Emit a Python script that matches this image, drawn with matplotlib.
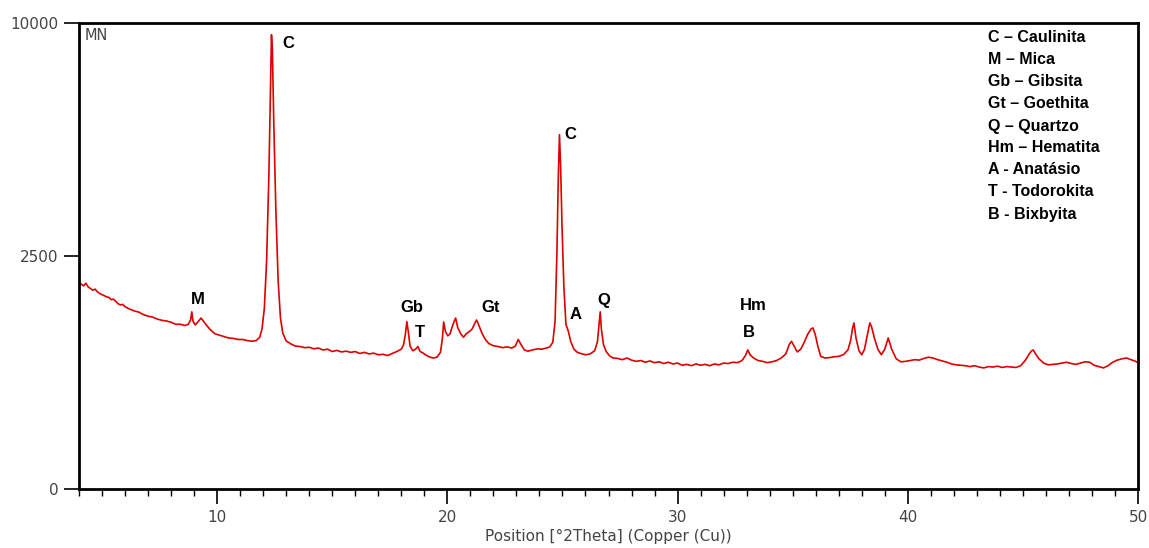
"""
XRD pattern (sample MN) with mineral phase labels.
"""
import numpy as np
import matplotlib.pyplot as plt
from matplotlib.ticker import MultipleLocator

plt.rcParams['font.family'] = ['Liberation Sans', 'DejaVu Sans']

# diffractogram: 2theta (deg) and counts, row for row
two_theta = [
    4.0, 4.1, 4.2, 4.3, 4.4, 4.5, 4.6, 4.7, 4.8, 4.9,
    5.0, 5.1, 5.2, 5.3, 5.4, 5.5, 5.6, 5.7, 5.8, 5.9,
    6.0, 6.2, 6.4, 6.6, 6.8, 7.0, 7.2, 7.4, 7.6, 7.8,
    8.0, 8.2, 8.4, 8.6, 8.75, 8.85, 8.9, 8.95, 9.05, 9.15,
    9.3, 9.4, 9.55, 9.7, 9.9, 10.1, 10.3, 10.5, 10.7, 10.9,
    11.1, 11.3, 11.5, 11.7, 11.85, 11.95, 12.05, 12.15, 12.25, 12.32,
    12.36, 12.4, 12.46, 12.55, 12.65, 12.75, 12.85, 13.0, 13.2, 13.4,
    13.6, 13.8, 14.0, 14.2, 14.4, 14.6, 14.8, 15.0, 15.2, 15.4,
    15.6, 15.8, 16.0, 16.2, 16.4, 16.6, 16.8, 17.0, 17.2, 17.4,
    17.6, 17.8, 18.0, 18.1, 18.18, 18.24, 18.3, 18.38, 18.5, 18.62,
    18.72, 18.82, 18.95, 19.1, 19.25, 19.4, 19.55, 19.7, 19.78, 19.84,
    19.92, 20.02, 20.12, 20.22, 20.3, 20.36, 20.45, 20.58, 20.7, 20.82,
    20.95, 21.08, 21.2, 21.27, 21.35, 21.5, 21.65, 21.8, 22.0, 22.2,
    22.4, 22.6, 22.8, 22.95, 23.08, 23.2, 23.35, 23.5, 23.7, 23.9,
    24.1, 24.3, 24.45, 24.58, 24.68, 24.76, 24.82, 24.87, 24.92, 24.98,
    25.06, 25.15, 25.26, 25.36, 25.5, 25.65, 25.8, 26.0, 26.2, 26.4,
    26.52, 26.6, 26.64, 26.69, 26.78, 26.9, 27.05, 27.2, 27.4, 27.6,
    27.8, 28.0, 28.2, 28.4, 28.6, 28.8, 29.0, 29.2, 29.4, 29.6,
    29.8, 30.0, 30.2, 30.4, 30.6, 30.8, 31.0, 31.2, 31.4, 31.6,
    31.8, 32.0, 32.2, 32.4, 32.6, 32.8, 32.95, 33.05, 33.15, 33.3,
    33.5, 33.7, 33.9, 34.1, 34.3, 34.5, 34.7, 34.85, 34.95, 35.08,
    35.2, 35.35, 35.5, 35.65, 35.8, 35.88, 35.98, 36.1, 36.22, 36.4,
    36.6, 36.8, 37.0, 37.2, 37.4, 37.52, 37.6, 37.66, 37.75, 37.88,
    38.0, 38.12, 38.25, 38.35, 38.42, 38.55, 38.7, 38.85, 39.0, 39.15,
    39.3, 39.5, 39.7, 39.9, 40.1, 40.3, 40.5, 40.7, 40.9, 41.1,
    41.3, 41.5, 41.7, 41.9, 42.1, 42.3, 42.5, 42.7, 42.9, 43.1,
    43.3, 43.5, 43.7, 43.9, 44.1, 44.3, 44.5, 44.7, 44.9, 45.1,
    45.25, 45.38, 45.45, 45.55, 45.7, 45.9, 46.1, 46.3, 46.5, 46.7,
    46.9, 47.1, 47.3, 47.5, 47.7, 47.9, 48.1, 48.3, 48.5, 48.7,
    48.9, 49.1, 49.3, 49.5, 49.7, 49.9, 50.0,
]
counts = [
    1970, 1930, 1900, 1950, 1880, 1850, 1820, 1840, 1790, 1760,
    1740, 1720, 1700, 1690, 1650, 1660, 1620, 1580, 1560, 1570,
    1530, 1490, 1460, 1440, 1400, 1375, 1360, 1330, 1310, 1300,
    1280, 1250, 1250, 1230, 1250, 1320, 1445, 1300, 1240, 1280,
    1345, 1300, 1230, 1170, 1110, 1090, 1070, 1050, 1045, 1030,
    1030, 1015, 1005, 1015, 1060, 1180, 1500, 2400, 4600, 7600,
    9500, 8900, 6200, 3600, 2000, 1350, 1120, 1010, 970, 940,
    935, 920, 925, 905, 915, 890, 900, 870, 885, 865,
    875, 860, 870, 845, 860, 840, 850, 830, 835, 820,
    845, 870, 900, 960, 1110, 1290, 1150, 940, 880, 900,
    935, 870, 850, 820, 800, 790, 800, 860, 1030, 1285,
    1140, 1080, 1110, 1220, 1300, 1345, 1200, 1110, 1060, 1110,
    1140, 1180, 1270, 1315, 1250, 1120, 1030, 975, 945, 935,
    920, 930, 915, 940, 1030, 960, 890, 875, 890, 905,
    900, 915, 930, 990, 1300, 2600, 4500, 5780, 4800, 3200,
    1900, 1250, 1140, 1000, 900, 860, 845, 830, 840, 880,
    1000, 1300, 1445, 1180, 960, 870, 815, 790, 785, 770,
    790, 765, 750, 760, 740, 755, 735, 745, 725, 740,
    720, 730, 705, 715, 700, 720, 705, 715, 700, 720,
    710, 730, 725, 740, 735, 760, 820, 890, 830, 790,
    760, 750, 735, 745, 760, 790, 840, 960, 1005, 930,
    865, 900, 990, 1100, 1180, 1195, 1100, 930, 810, 790,
    795, 805, 810, 830, 890, 1020, 1190, 1270, 1050, 880,
    830, 900, 1100, 1270, 1220, 1050, 900, 830, 900, 1050,
    900, 780, 745, 750, 760, 770, 765, 785, 800, 790,
    770, 755, 740, 720, 710, 705, 700, 690, 700, 685,
    675, 690, 685, 695, 680, 690, 685, 680, 700, 760,
    830, 880, 890, 840, 780, 730, 710, 715, 720, 730,
    740, 725, 715, 730, 745, 740, 705, 690, 675, 700,
    740, 765, 780, 790, 770, 750, 735,
]

# phase labels: text, 2theta, counts
peak_labels = ['C', 'M', 'Gb', 'T', 'Gt', 'C', 'A', 'Q', 'Hm', 'B']
label_theta = [13.1, 9.15, 18.45, 18.8, 21.9, 25.35, 25.55, 26.8, 33.3, 33.1]
label_counts = [9150, 1660, 1510, 1135, 1510, 5780, 1410, 1630, 1545, 1135]

legend_lines = [
    'C \u2013 Caulinita', 'M \u2013 Mica', 'Gb \u2013 Gibsita',
    'Gt \u2013 Goethita', 'Q \u2013 Quartzo', 'Hm \u2013 Hematita',
    'A - Anat\u00e1sio', 'T - Todorokita', 'B - Bixbyita',
]

fig = plt.figure(figsize=(11.49, 5.48), dpi=100)
ax = fig.add_axes([79 / 1149, 59 / 548, 1059 / 1149, 466 / 548])

ax.plot(two_theta, counts, color='#dd0000', lw=1.2)

ax.set_yscale('function', functions=(lambda v: np.sqrt(np.clip(v, 0, None)),
                                     lambda v: v ** 2))
ax.set_xlim(4, 50)
ax.set_ylim(0, 10000)
ax.set_yticks([0, 2500, 10000])
ax.set_yticklabels(['0', '2500', '10000'])
ax.xaxis.set_major_locator(MultipleLocator(10))
ax.xaxis.set_minor_locator(MultipleLocator(1))
ax.yaxis.set_minor_locator(plt.NullLocator())

for sp in ax.spines.values():
    sp.set_linewidth(2)
ax.tick_params(axis='both', which='major', length=11, width=1.2,
               labelsize=11, labelcolor='#444444', pad=4)
ax.tick_params(axis='x', which='minor', length=5, width=1)
for tl in ax.get_xticklabels() + ax.get_yticklabels():
    tl.set_family('DejaVu Sans')

ax.set_xlabel('Position [\u00b02Theta] (Copper (Cu))', fontsize=11,
              family='DejaVu Sans', color='#444444', labelpad=3)

for lab, tx, ty in zip(peak_labels, label_theta, label_counts):
    ax.text(tx, ty, lab, fontsize=12, fontweight='bold', ha='center',
            va='center')

ax.text(0.005, 0.99, 'MN', transform=ax.transAxes, fontsize=10.5,
        family='DejaVu Sans', color='#444444', ha='left', va='top')

for i, line in enumerate(legend_lines):
    ax.text(988, 548 - 38 - 22 * i, line, transform=None, fontsize=11.5,
            fontweight='bold', ha='left', va='center')

fig.savefig('out.png', dpi=100)
